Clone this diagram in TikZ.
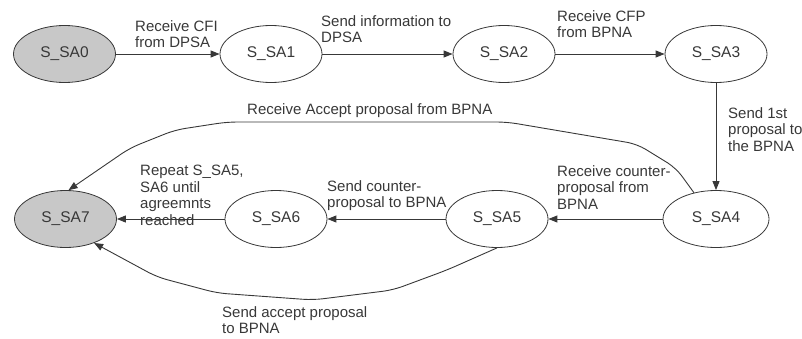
\documentclass[tikz,border=0pt]{standalone}
\usepackage{fontspec}
\setmainfont{Liberation Sans}
\usetikzlibrary{arrows.meta,positioning,shapes.geometric}
\definecolor{stategray}{HTML}{C8C8C8}
\definecolor{inkgray}{HTML}{383838}

\begin{document}
\begin{tikzpicture}[x=1pt,y=1pt,color=inkgray,
  >={Triangle[length=9pt,width=7pt]},
  node distance=200pt,on grid,
  every node/.style={font=\fontsize{15}{16.5}\selectfont},
  state/.style={ellipse,draw,line width=0.8pt,minimum width=102pt,minimum height=57pt,inner sep=0pt,font=\fontsize{15.5}{16.5}\selectfont},
  final/.style={state,fill=stategray},
  lbl/.style={anchor=north west,inner sep=0pt,align=left},
  link/.style={->,line width=0.9pt}]
   \useasboundingbox (0,0) rectangle (802,338);
   \node[final] (SA0) at (64.5,284) {S\_SA0};
   \node[state] (SA1) [right=206.5pt of SA0] {S\_SA1};
   \node[state] (SA2) [right=233pt of SA1] {S\_SA2};
   \node[state] (SA3) [right=212pt of SA2] {S\_SA3};
   \node[state,minimum width=106pt] (SA4) [below=165pt of SA3] {S\_SA4};
   \node[state] (SA5) [left=219pt of SA4] {S\_SA5};
   \node[state] (SA6) [left=221pt of SA5] {S\_SA6};
   \node[final] (SA7) [left=210.5pt of SA6] {S\_SA7};
    \path[link]
    (SA0) edge (SA1)
    (SA1) edge (SA2)
    (SA2) edge (SA3)
    (SA3) edge (SA4)
    (SA4) edge (SA5)
    (SA5) edge (SA6)
    (SA6) edge (SA7);
   % the two ways back to S_SA7
   \draw[link,rounded corners=10pt] (SA4.130) -- (676,170) -- (637,194) -- (507,216)
      -- (227,216) -- (175,208) -- (130,190) -- (SA7.84);
   \draw[link,rounded corners=10pt] (SA5.270) -- (447,68) -- (393,48) -- (313,38)
      -- (217,45) -- (157,61) -- (SA7.-40);
   % labels
   \node[lbl] (l01) at (135,318) {Receive CFI\\from DPSA};
   \node[lbl] (l12) at (321,323) {Send information to\\DPSA};
   \node[lbl] (l23) at (557,328) {Receive CFP\\from BPNA};
   \node[lbl] (l34) at (728,231) {Send 1st\\proposal to\\the BPNA};
   \node[lbl] (l47) at (247,235) {Receive Accept proposal from BPNA};
   \node[lbl] (l45) at (557,173) {Receive counter-\\proposal from\\BPNA};
   \node[lbl] (l56) at (327,158) {Send counter-\\proposal to BPNA};
   \node[lbl] (l67) at (140,173) {Repeat S\_SA5,\\SA6 until\\agreemnts\\reached};
   \node[lbl] (l57) at (222,32) {Send accept proposal\\to BPNA};
\end{tikzpicture}
\end{document}
